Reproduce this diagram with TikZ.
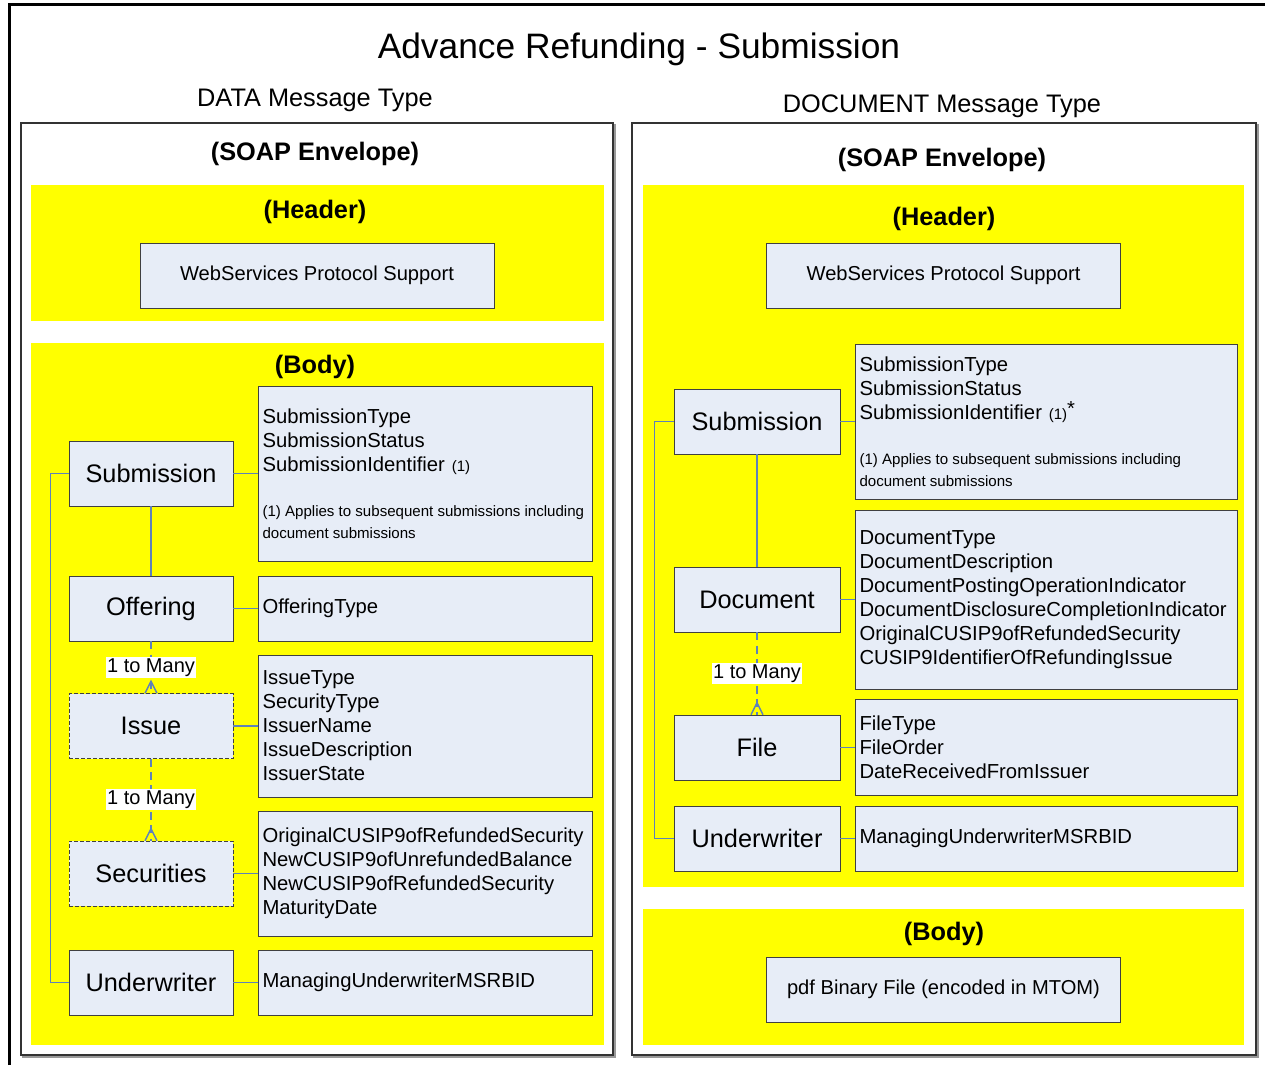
\documentclass[tikz,border=0pt]{standalone}
\usepackage{fontspec}
\setmainfont{Liberation Sans}
\usetikzlibrary{positioning}
\definecolor{pane}{RGB}{255,255,0}
\definecolor{boxfill}{RGB}{231,237,247}
\definecolor{linkblue}{RGB}{95,130,185}
\def\attr{\fontsize{15.2}{18}\selectfont}
\def\note{\fontsize{11.3}{16.5}\selectfont\spaceskip=0pt\xspaceskip=0pt\relax}
\def\crow#1{\draw[link] ([xshift=-4.5pt]#1.north) -- ([yshift=9pt]#1.north) -- ([xshift=4.5pt]#1.north);}

\begin{document}
\begin{tikzpicture}[x=0.75pt, y=-0.75pt,
	entity/.style={draw=black!75, fill=boxfill, minimum width=#1, minimum height=48.75pt, inner sep=0pt, font=\fontsize{19}{22}\selectfont},
	weak/.style={entity=#1, dash pattern=on 3pt off 1.5pt},
	attrbox/.style 2 args={draw=black!75, fill=boxfill, inner xsep=3pt, inner ysep=2pt, align=left, text width=#1, minimum height=#2, font=\attr},
	svcbox/.style={draw=black!75, fill=boxfill, minimum width=265.5pt, minimum height=48.75pt, font=\fontsize{15.1}{18}\selectfont},
	heading/.style={font=\fontsize{19}{22}\selectfont\bfseries},
	link/.style={draw=linkblue, line width=1.1pt},
	many/.style={fill=white, inner sep=1pt, font=\fontsize{15}{18}\selectfont},
	panel/.style={draw=black!80, line width=1.1pt}]
	\useasboundingbox (0,0) rectangle (1265,1065);
	\draw[line width=2.25pt] (9,1065) -- (9,4) -- (1265,4);
	\node[font=\fontsize{26.5}{30}\selectfont] (title) at (639,49) {Advance Refunding - Submission};
	\node[font=\fontsize{19}{22}\selectfont] (datatype) at (315,100) {DATA Message Type};
	\node[font=\fontsize{19}{22}\selectfont] (doctype) at (942,106) {DOCUMENT Message Type};

	% DATA message
	\draw[black!40, line width=1.1pt] (23,125) rectangle (615,1057);
	\draw[panel, fill=white] (21,123) rectangle (613,1055);
	\node[heading] (lsoap) at (315,154) {(SOAP Envelope)};
	\fill[pane] (31,185) rectangle (604,321);
	\node[heading] (lhead) at (315,212) {(Header)};
	\node[svcbox] (lsvc) at (317,275.5) {WebServices Protocol Support};
	\fill[pane] (31,343) rectangle (604,1045);
	\node[heading] (lbody) at (315,367) {(Body)};

	\node[entity=123pt] (lsub) at (151,473.5) {Submission};
	\node[entity=123pt] (loff) at (151,608.5) {Offering};
	\node[weak=123pt] (liss) at (151,726) {Issue};
	\node[weak=123pt] (lsec) at (151,873.5) {Securities};
	\node[entity=123pt] (lund) at (151,982.5) {Underwriter};

	\node[attrbox={244.5pt}{131.25pt}, right=18.75pt of lsub] (lsubA) {SubmissionType\\SubmissionStatus\\SubmissionIdentifier {\note (1)}\par
		\vspace{17.5pt}\note\mbox{(1) Applies to subsequent submissions including}\\\mbox{document submissions}\par};
	\node[attrbox={244.5pt}{48.75pt}, right=18.75pt of loff] (loffA) {OfferingType};
	\node[attrbox={244.5pt}{106.5pt}, right=18.75pt of liss] (lissA) {IssueType\\SecurityType\\IssuerName\\IssueDescription\\IssuerState};
	\node[attrbox={244.5pt}{93.75pt}, right=18.75pt of lsec] (lsecA) {OriginalCUSIP9ofRefundedSecurity\\NewCUSIP9ofUnrefundedBalance\\NewCUSIP9ofRefundedSecurity\\MaturityDate};
	\node[attrbox={244.5pt}{48.75pt}, right=18.75pt of lund] (lundA) {ManagingUnderwriterMSRBID};

	\path[link] (lsub) edge (loff);
	\path[link, dash pattern=on 6pt off 4pt] (loff) edge node[many]{1 to Many} (liss);
	\path[link, dash pattern=on 6pt off 4pt] (liss) edge node[many]{1 to Many} (lsec);
	\crow{liss}
	\crow{lsec}
	\foreach \e in {lsub,loff,liss,lsec,lund}
		\path[link] (\e) edge (\e A);
	\draw[link] (lsub.west) -- ++(-18,0) |- (lund.west);

	% DOCUMENT message
	\draw[black!40, line width=1.1pt] (634,125) rectangle (1258,1057);
	\draw[panel, fill=white] (632,123) rectangle (1256,1055);
	\node[heading] (rsoap) at (942,160) {(SOAP Envelope)};
	\fill[pane] (643,185) rectangle (1244,887);
	\node[heading] (rhead) at (944,219) {(Header)};
	\node[svcbox] (rsvc) at (943.5,275.5) {WebServices Protocol Support};
	\fill[pane] (643,909) rectangle (1244,1045);
	\node[heading] (rbody) at (944,934) {(Body)};
	\node[svcbox] (rpdf) at (943.5,989.5) {pdf Binary File (encoded in MTOM)};

	\node[entity=124.5pt] (rsub) at (757,421.5) {Submission};
	\node[entity=124.5pt] (rdoc) at (757,599.5) {Document};
	\node[entity=124.5pt] (rfile) at (757,747.5) {File};
	\node[entity=124.5pt] (rund) at (757,838.5) {Underwriter};

	\node[attrbox={280.5pt}{116.25pt}, right=11.25pt of rsub] (rsubA) {SubmissionType\\SubmissionStatus\\SubmissionIdentifier {\note (1)}\raisebox{3pt}{*}\par
		\vspace{17pt}\note\mbox{(1) Applies to subsequent submissions including}\\\mbox{document submissions}\par};
	\node[attrbox={280.5pt}{134.25pt}, right=11.25pt of rdoc] (rdocA) {DocumentType\\DocumentDescription\\DocumentPostingOperationIndicator\\DocumentDisclosureCompletionIndicator\\OriginalCUSIP9ofRefundedSecurity\\CUSIP9IdentifierOfRefundingIssue};
	\node[attrbox={280.5pt}{72pt}, right=11.25pt of rfile] (rfileA) {FileType\\FileOrder\\DateReceivedFromIssuer};
	\node[attrbox={280.5pt}{48.75pt}, right=11.25pt of rund] (rundA) {ManagingUnderwriterMSRBID};

	\path[link] (rsub) edge (rdoc);
	\path[link, dash pattern=on 6pt off 4pt] (rdoc) edge node[many]{1 to Many} (rfile);
	\crow{rfile}
	\foreach \e in {rsub,rdoc,rfile,rund}
		\path[link] (\e) edge (\e A);
	\draw[link] (rsub.west) -- ++(-19,0) |- (rund.west);
\end{tikzpicture}
\end{document}
